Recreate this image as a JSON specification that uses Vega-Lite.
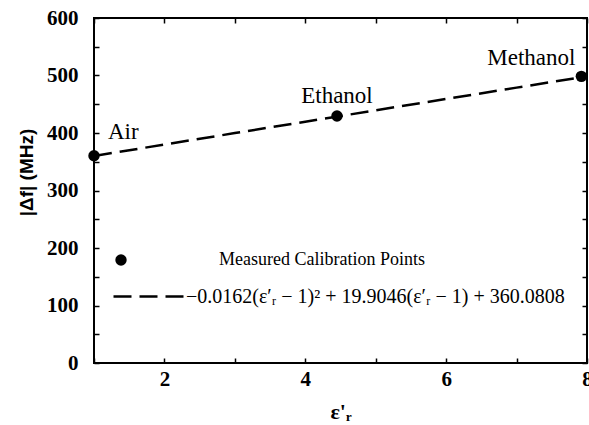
{
  "$schema": "https://vega.github.io/schema/vega-lite/v6.json",
  "width": 493,
  "height": 345,
  "autosize": "none",
  "padding": {"left": 94, "top": 18, "right": 2, "bottom": 62},
  "background": "white",
  "config": {
    "view": {"stroke": "black", "strokeWidth": 2},
    "axis": {
      "domain": false,
      "grid": false,
      "tickColor": "black",
      "tickWidth": 1.5,
      "tickSize": -5,
      "labelFont": "Liberation Serif",
      "labelFontWeight": "bold",
      "labelFontSize": 21,
      "labelColor": "black",
      "titleColor": "black"
    },
    "legend": {
      "labelFont": "Liberation Serif",
      "labelFontSize": 18,
      "labelColor": "black",
      "labelLimit": 0,
      "title": null
    }
  },
  "datasets": {
    "points": [
      {"er": 1.0, "df": 360.5, "label": "Air", "series": "Measured Calibration Points"},
      {"er": 4.45, "df": 429.5, "label": "Ethanol", "series": "Measured Calibration Points"},
      {"er": 7.92, "df": 498.5, "label": "Methanol", "series": "Measured Calibration Points"}
    ],
    "fit": [
      {"er": 1.0, "df": 360.08, "series": "−0.0162(ε′ᵣ − 1)² + 19.9046(ε′ᵣ − 1) + 360.0808"},
      {"er": 2.0, "df": 379.97, "series": "−0.0162(ε′ᵣ − 1)² + 19.9046(ε′ᵣ − 1) + 360.0808"},
      {"er": 3.0, "df": 399.83, "series": "−0.0162(ε′ᵣ − 1)² + 19.9046(ε′ᵣ − 1) + 360.0808"},
      {"er": 4.0, "df": 419.65, "series": "−0.0162(ε′ᵣ − 1)² + 19.9046(ε′ᵣ − 1) + 360.0808"},
      {"er": 5.0, "df": 439.44, "series": "−0.0162(ε′ᵣ − 1)² + 19.9046(ε′ᵣ − 1) + 360.0808"},
      {"er": 6.0, "df": 459.2, "series": "−0.0162(ε′ᵣ − 1)² + 19.9046(ε′ᵣ − 1) + 360.0808"},
      {"er": 7.0, "df": 478.93, "series": "−0.0162(ε′ᵣ − 1)² + 19.9046(ε′ᵣ − 1) + 360.0808"},
      {"er": 7.92, "df": 497.0, "series": "−0.0162(ε′ᵣ − 1)² + 19.9046(ε′ᵣ − 1) + 360.0808"}
    ]
  },
  "resolve": {"axis": {"x": "independent", "y": "independent"}},
  "layer": [
    {
      "data": {"name": "fit"},
      "mark": {"type": "line", "color": "black", "strokeWidth": 2.5, "clip": true},
      "encoding": {
        "x": {
          "field": "er", "type": "quantitative",
          "scale": {"domain": [1, 8], "nice": false, "zero": false},
          "axis": {
            "title": "ε'ᵣ",
            "titleFont": "Liberation Serif", "titleFontWeight": "bold", "titleFontSize": 22,
            "titlePadding": 12,
            "values": [1, 2, 3, 4, 5, 6, 7, 8],
            "format": "d",
            "labelExpr": "datum.value % 2 == 0 ? datum.label : ''",
            "labelPadding": 10,
            "labelFlush": false,
            "labelOverlap": false
          }
        },
        "y": {
          "field": "df", "type": "quantitative",
          "scale": {"domain": [0, 600], "nice": false},
          "axis": {
            "title": "|Δf| (MHz)",
            "titleFont": "Liberation Sans", "titleFontWeight": "bold", "titleFontSize": 19,
            "titleY": 154,
            "titlePadding": 10,
            "values": [0, 50, 100, 150, 200, 250, 300, 350, 400, 450, 500, 550, 600],
            "labelExpr": "datum.value % 100 == 0 ? datum.label : ''",
            "labelPadding": 21,
            "labelOverlap": false
          }
        },
        "strokeDash": {
          "field": "series", "type": "nominal",
          "scale": {"range": [[18, 8]]},
          "legend": {
            "orient": "none", "legendX": 18, "legendY": 242,
            "symbolType": "stroke", "symbolSize": 4900, "symbolStrokeWidth": 2.5,
            "symbolStrokeColor": "black", "labelOffset": 1, "labelFontSize": 20
          }
        }
      }
    },
    {
      "data": {"name": "points"},
      "mark": {"type": "point", "filled": true, "color": "black", "size": 130, "opacity": 1, "clip": false},
      "encoding": {
        "x": {"field": "er", "type": "quantitative", "axis": {"orient": "top", "labels": false, "title": null, "values": [1, 2, 3, 4, 5, 6, 7, 8]}},
        "y": {"field": "df", "type": "quantitative", "axis": {"orient": "right", "labels": false, "title": null, "values": [0, 50, 100, 150, 200, 250, 300, 350, 400, 450, 500, 550, 600]}},
        "shape": {
          "field": "series", "type": "nominal",
          "scale": {"range": ["circle"]},
          "legend": {
            "orient": "none", "legendX": 18, "legendY": 233,
            "symbolSize": 130, "symbolFillColor": "black", "symbolStrokeColor": "black",
            "labelOffset": 89
          }
        }
      }
    },
    {
      "data": {"name": "points"},
      "transform": [{"filter": "datum.label == 'Air'"}],
      "mark": {"type": "text", "font": "Liberation Serif", "fontSize": 23, "align": "left", "baseline": "middle", "dx": 14, "dy": -24, "color": "black"},
      "encoding": {
        "x": {"field": "er", "type": "quantitative", "axis": null},
        "y": {"field": "df", "type": "quantitative", "axis": null},
        "text": {"field": "label"}
      }
    },
    {
      "data": {"name": "points"},
      "transform": [{"filter": "datum.label == 'Ethanol'"}],
      "mark": {"type": "text", "font": "Liberation Serif", "fontSize": 23, "align": "center", "baseline": "middle", "dx": 0, "dy": -20, "color": "black"},
      "encoding": {
        "x": {"field": "er", "type": "quantitative", "axis": null},
        "y": {"field": "df", "type": "quantitative", "axis": null},
        "text": {"field": "label"}
      }
    },
    {
      "data": {"name": "points"},
      "transform": [{"filter": "datum.label == 'Methanol'"}],
      "mark": {"type": "text", "font": "Liberation Serif", "fontSize": 23, "align": "center", "baseline": "middle", "dx": -50, "dy": -18, "color": "black"},
      "encoding": {
        "x": {"field": "er", "type": "quantitative", "axis": null},
        "y": {"field": "df", "type": "quantitative", "axis": null},
        "text": {"field": "label"}
      }
    }
  ]
}
